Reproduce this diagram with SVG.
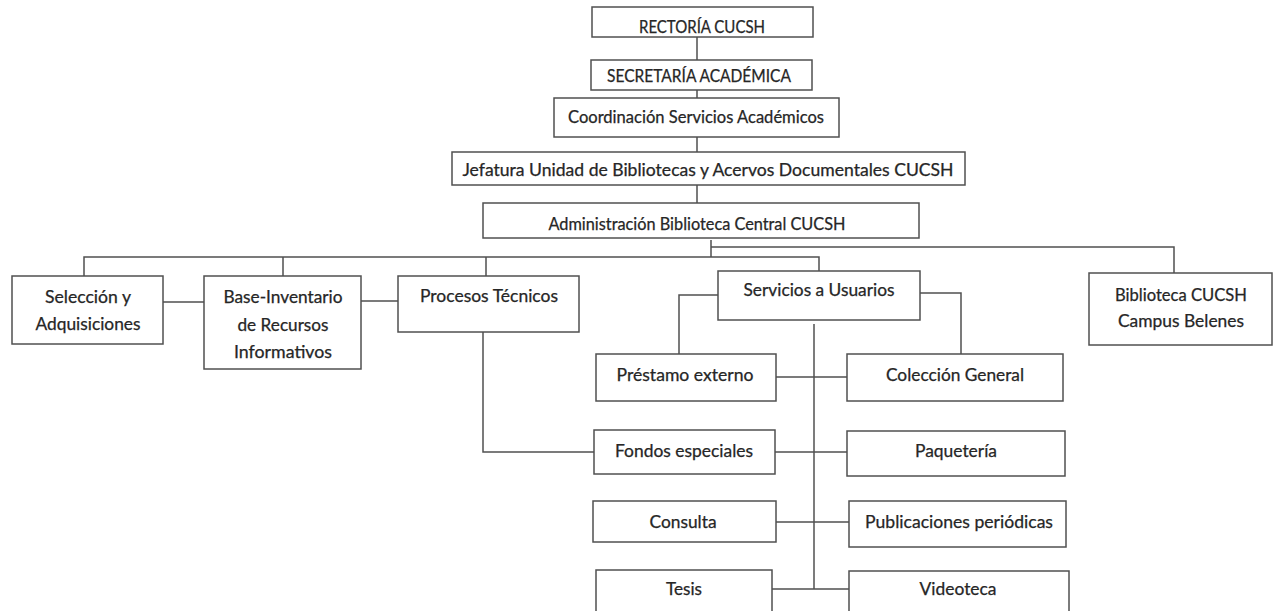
<svg xmlns="http://www.w3.org/2000/svg" width="1273" height="611" viewBox="0 0 1273 611">
<style>
.box{fill:#fff;stroke:#505050;stroke-width:1.5}
.ln{fill:none;stroke:#505050;stroke-width:1.5}
text{font-family:Lato,"Open Sans","Liberation Sans",sans-serif;font-size:16.5px;fill:#262626;stroke:#262626;stroke-width:0.25;text-anchor:middle}
</style>
<rect width="1273" height="611" fill="#fff"/>
<g id="connectors">
<path class="ln" d="M697 37V60M697 90V98M697 137V152M697 185V203"/>
<path class="ln" d="M711 240V257M711 247H1174V273"/>
<path class="ln" d="M84 276V257H819V271M283 257V276M486 257V276"/>
<path class="ln" d="M163 302H204M361 301H398"/>
<path class="ln" d="M483 332V452H594"/>
<path class="ln" d="M718 295H679V354M920 293H961V354"/>
<path class="ln" d="M814 324V589"/>
<path class="ln" d="M776 377H847M775 452H847M776 522H849M772 589H849"/>
</g>
<g id="rectoria"><rect class="box" x="592" y="7" width="221" height="30"/><text x="702" y="33" textLength="126" lengthAdjust="spacingAndGlyphs">RECTORÍA CUCSH</text></g>
<g id="secretaria"><rect class="box" x="591" y="60" width="221" height="30"/><text x="699" y="82" textLength="184" lengthAdjust="spacingAndGlyphs">SECRETARÍA ACADÉMICA</text></g>
<g id="coordinacion"><rect class="box" x="554" y="98" width="285" height="39"/><text x="696" y="123" textLength="256" lengthAdjust="spacingAndGlyphs">Coordinación Servicios Académicos</text></g>
<g id="jefatura"><rect class="box" x="452" y="152" width="513" height="33"/><text x="708" y="176" textLength="491" lengthAdjust="spacingAndGlyphs">Jefatura Unidad de Bibliotecas y Acervos Documentales CUCSH</text></g>
<g id="administracion"><rect class="box" x="483" y="203" width="436" height="35"/><text x="697" y="230" textLength="297" lengthAdjust="spacingAndGlyphs">Administración Biblioteca Central CUCSH</text></g>
<g id="seleccion"><rect class="box" x="12" y="276" width="151" height="68"/><text x="88" y="303" textLength="86" lengthAdjust="spacingAndGlyphs">Selección y</text><text x="88" y="330" textLength="105" lengthAdjust="spacingAndGlyphs">Adquisiciones</text></g>
<g id="base"><rect class="box" x="204" y="276" width="157" height="93"/><text x="283" y="303" textLength="119" lengthAdjust="spacingAndGlyphs">Base-Inventario</text><text x="283" y="331" textLength="91" lengthAdjust="spacingAndGlyphs">de Recursos</text><text x="283" y="358" textLength="98" lengthAdjust="spacingAndGlyphs">Informativos</text></g>
<g id="procesos"><rect class="box" x="398" y="276" width="181" height="56"/><text x="489" y="302" textLength="138" lengthAdjust="spacingAndGlyphs">Procesos Técnicos</text></g>
<g id="servicios"><rect class="box" x="718" y="271" width="202" height="49"/><text x="819" y="296" textLength="151" lengthAdjust="spacingAndGlyphs">Servicios a Usuarios</text></g>
<g id="belenes"><rect class="box" x="1089" y="273" width="183" height="72"/><text x="1181" y="301" textLength="132" lengthAdjust="spacingAndGlyphs">Biblioteca CUCSH</text><text x="1181" y="327" textLength="126" lengthAdjust="spacingAndGlyphs">Campus Belenes</text></g>
<g id="prestamo"><rect class="box" x="596" y="354" width="180" height="47"/><text x="685" y="381" textLength="137" lengthAdjust="spacingAndGlyphs">Préstamo externo</text></g>
<g id="coleccion"><rect class="box" x="847" y="354" width="216" height="47"/><text x="955" y="381" textLength="138" lengthAdjust="spacingAndGlyphs">Colección General</text></g>
<g id="fondos"><rect class="box" x="594" y="430" width="181" height="44"/><text x="684" y="457" textLength="138" lengthAdjust="spacingAndGlyphs">Fondos especiales</text></g>
<g id="paqueteria"><rect class="box" x="847" y="431" width="218" height="45"/><text x="956" y="457" textLength="82" lengthAdjust="spacingAndGlyphs">Paquetería</text></g>
<g id="consulta"><rect class="box" x="593" y="501" width="183" height="41"/><text x="683" y="528" textLength="67" lengthAdjust="spacingAndGlyphs">Consulta</text></g>
<g id="publicaciones"><rect class="box" x="849" y="501" width="217" height="46"/><text x="959" y="528" textLength="188" lengthAdjust="spacingAndGlyphs">Publicaciones periódicas</text></g>
<g id="tesis"><rect class="box" x="596" y="570" width="176" height="50"/><text x="684" y="595" textLength="36" lengthAdjust="spacingAndGlyphs">Tesis</text></g>
<g id="videoteca"><rect class="box" x="849" y="571" width="220" height="50"/><text x="958" y="595" textLength="77" lengthAdjust="spacingAndGlyphs">Videoteca</text></g>
</svg>
